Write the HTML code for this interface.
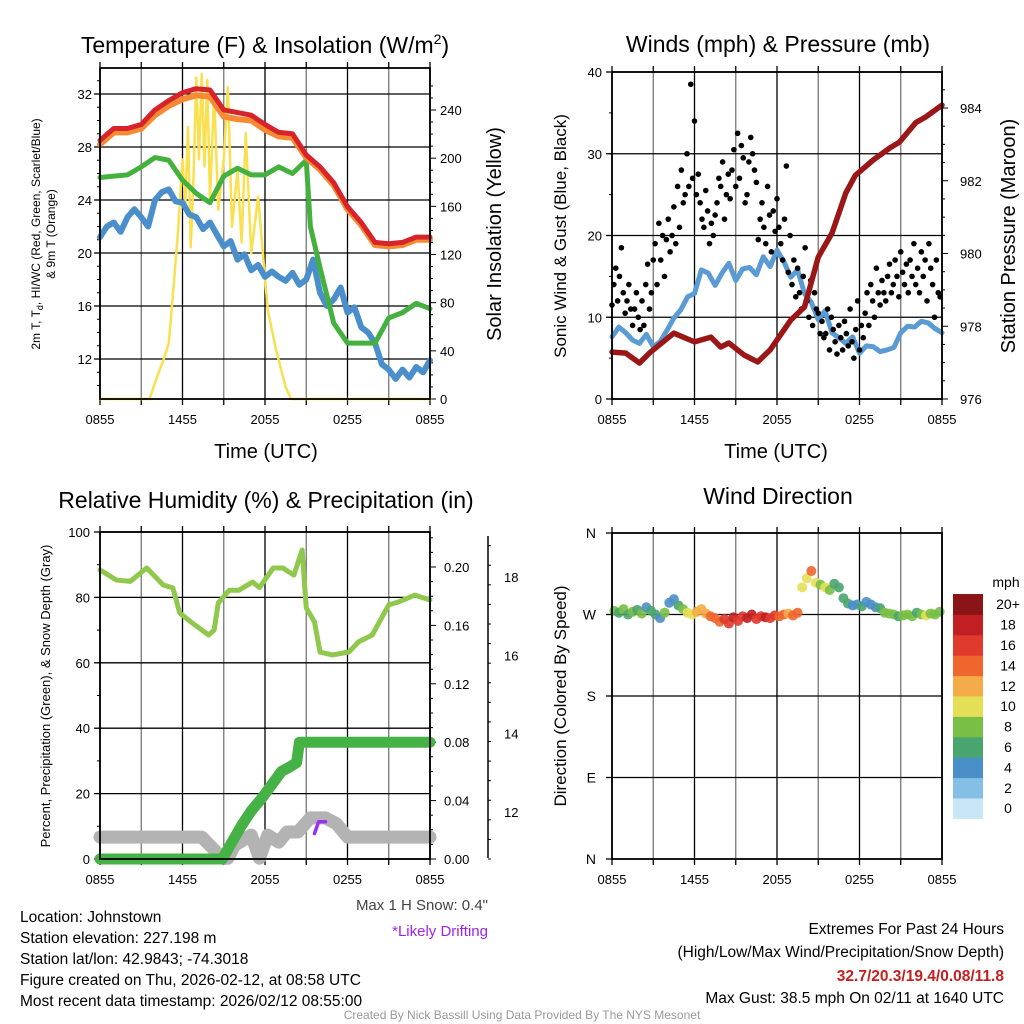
<!DOCTYPE html>
<html><head><meta charset="utf-8">
<style>
html,body{margin:0;padding:0;background:#fff;}
svg{display:block;font-family:"Liberation Sans",Arial,sans-serif;}
</style></head>
<body>
<svg id="fig" width="1024" height="1024" viewBox="0 0 1024 1024" xmlns="http://www.w3.org/2000/svg">
<g id="layer"></g>
</svg>
<script>
// ---------- DATA ----------
const hourTicks = ["0855","1455","2055","0255","0855"];
const tempHours = [0,1,2,3,4,5,6,7,8,9,10,11,12,13,14,15,16,17,18,19,20,21,22,23,24];
const temp2m = [28.5,29.4,29.4,29.7,30.8,31.5,32.1,32.4,32.3,30.8,30.6,30.4,29.7,29.1,29.0,27.4,26.5,25.3,23.5,22.3,20.8,20.7,20.8,21.2,21.2];
const temp9m = [28.2,29.1,29.1,29.4,30.4,31.1,31.6,31.9,31.8,30.3,30.1,30.0,29.3,28.8,28.7,27.2,26.3,25.1,23.3,22.1,20.6,20.5,20.6,21.0,21.0];
const dewHours = [0,1,2,3,4,5,6,7,8,9,10,11,12,13,14,15,15.3,16,17,18,19,20,21,22,23,24];
const dewpoint = [25.7,25.8,25.9,26.5,27.2,27.0,25.5,24.5,23.8,25.8,26.4,25.9,25.9,26.5,26.0,27.0,22.0,18.9,14.7,13.2,13.2,13.2,15.1,15.5,16.2,15.8];
const wcHours = [0,0.5,1,1.5,2,2.5,3,3.5,4,4.5,5,5.5,6,6.5,7,7.5,8,8.5,9,9.5,10,10.5,11,11.5,12,12.5,13,13.5,14,14.5,15,15.5,16,16.5,17,17.5,18,18.5,19,19.5,20,20.5,21,21.5,22,22.5,23,23.5,24];
const windChill = [21.2,22.0,22.3,21.6,22.7,23.3,22.7,22.0,24.0,24.6,24.8,23.9,23.8,22.9,22.7,21.8,22.3,21.4,20.5,20.9,19.5,19.9,18.7,19.1,18.2,18.6,18.2,17.9,18.5,17.6,18.0,19.5,17.0,16.0,16.5,17.4,15.5,15.9,14.4,14.0,13.2,11.6,11.2,10.5,11.2,10.6,11.4,11.0,11.9];
const solarHours = [0,3.6,4.2,4.6,5.0,5.4,5.7,6.0,6.2,6.4,6.6,6.8,7.0,7.2,7.4,7.6,7.8,8.0,8.3,8.6,9.0,9.3,9.6,10.0,10.3,10.6,11.0,11.5,12.2,12.8,13.5,13.9,24];
const solar = [0,0,20,32,46,100,143,199,160,226,126,184,267,199,270,193,265,165,254,157,199,259,143,190,130,221,121,168,74,41,10,0,0];
const windHours = wcHours;
const windSpeed = [7.6,8.8,8.1,7.2,6.8,7.9,6.4,7.0,8.4,9.9,10.9,12.5,12.9,15.8,15.4,13.9,15.4,16.6,14.5,15.9,16.1,15.2,17.4,16.2,18.2,16.8,14.9,15.8,12.9,11.8,9.7,10.8,8.1,7.5,6.8,7.6,5.6,6.5,6.4,5.8,6.0,6.3,8.1,8.9,8.8,9.5,9.3,8.6,8.1];
const gusts = [11.5,14,16,12,15,18.5,13,10.5,12,14,11,9,11,13,10,8.5,
12,9,14,16.5,11,13,17,19,14,21.5,17,20,15,19.5,22,18,
20,23.5,19,26,21,28,24,25,30,26,38.5,27,34,25,27.5,24,
22,21,25.5,23,19,21.5,20,22.5,24,27,26,29,22,25,27.5,24.5,
28,30.5,26,32.5,27,31,29.5,24,25,29,32,30,28,26.5,19.5,22,
24,21,19,26,22.5,18,23,20.5,24.5,21,19,17,22,28.5,15.5,20,
14,17,12.5,16,13,11,15,18.5,12,10,14.5,9,13,11,10.5,8,
9.5,7.5,8,11,6,10,8.5,7,5.5,9,7.5,6,9.5,8,6.5,11,
7,5,8.5,12,6,9,7.5,10.5,13,9,14,12,10,16,13,11.5,
14.5,13,12,15,16.5,13,14,17,15,12.5,18,15.5,14,16.5,13,17,
15,19,14,16,13,18,15,17,12,19,16,14,10,17,13,12.5];
const presHours = [0,1.0,2.0,2.8,4.5,6.0,7.2,7.9,8.5,9.6,10.6,11.5,13.0,14.0,15.0,16.0,17.0,17.7,19.0,20.2,20.9,22.1,22.8,24];
const pressure = [977.29,977.26,976.99,977.29,977.81,977.57,977.7,977.43,977.54,977.21,977.02,977.35,978.17,978.53,979.9,980.56,981.66,982.15,982.57,982.9,983.06,983.6,983.75,984.08];
const rhHours = [0,1.2,2.2,3.4,4.6,5.3,5.8,6.7,7.9,8.3,8.6,9.4,10.1,11.1,11.6,12.6,13.3,14.1,14.7,15.0,15.6,16.0,16.9,18.1,18.8,19.8,21.0,21.7,22.9,24];
const rh = [88.4,85.3,84.9,89,83.8,82.9,75.2,72.2,68.5,70,78.3,82.2,82.2,84.7,83,89,89,86.8,94.5,76.8,72.5,63.3,62.4,63.3,66.4,68.5,77.7,78.6,80.7,79.2];
const precipHours = [0,1,2,3,4,5,6,7,8,8.9,9.5,10.3,11.0,11.8,12.5,13.2,13.8,14.3,14.5,15,16,17,18,19,20,21,22,23,24];
const precip = [0,0,0,0,0,0,0,0,0,0,0.01,0.023,0.033,0.042,0.051,0.06,0.063,0.066,0.08,0.08,0.08,0.08,0.08,0.08,0.08,0.08,0.08,0.08,0.08];
const snowHours = [0,2,4,6,7.4,8.9,9.3,9.8,11.0,11.6,12.2,13.0,13.6,14.4,15.3,16.4,17.2,18,20,22,24];
const snowDepth = [11.36,11.36,11.36,11.36,11.36,10.82,10.82,11.15,11.41,10.82,11.41,11.23,11.49,11.49,11.85,11.85,11.7,11.36,11.36,11.36,11.36];
const driftHours = [15.6,15.9,16.4];
const driftDepth = [11.45,11.75,11.75];
const dirDeg = [274,272,276,270,273,275,271,278,274,270,266,272,
283,287,280,276,272,270,273,276,271,268,266,262,
265,260,267,263,268,266,270,265,268,267,266,269,
268,270,271,269,272,300,310,318,305,303,300,297,
304,300,288,282,280,281,279,284,281,278,277,272,
271,270,268,269,270,268,272,270,269,271,270,273];
const dirSpeed = [8,7,8,6,8,7,8,5,7,6,5,8,
4,5,6,9,10,11,12,13,12,14,15,14,
16,17,18,17,17,19,18,17,16,18,17,16,
15,14,13,14,14,10,11,14,10,9,10,8,
7,6,6,6,5,4,6,5,5,4,6,8,
8,8,7,8,9,8,7,8,10,8,9,8];
const speedLevels = ["0","2","4","6","8","10","12","14","16","18","20+"];
const speedColors = ["#c7e7f8","#85bfe6","#4a8fc8","#49a56e","#79bf45","#e5df58","#f5ac48","#ee662e","#df3a2b","#c21f24","#8b1416"];

// ---------- HELPERS ----------
const NS="http://www.w3.org/2000/svg";
const root=document.getElementById('layer');
function el(tag,attrs,parent){const e=document.createElementNS(NS,tag);for(const k in attrs)e.setAttribute(k,attrs[k]);(parent||root).appendChild(e);return e;}
function txt(s,x,y,size,anchor,extra,parent){const t=el('text',Object.assign({x:x,y:y,'font-size':size,'text-anchor':anchor||'middle',fill:'#000'},extra||{}),parent);t.textContent=s;return t;}
function lin(d0,d1,r0,r1){return v=>r0+(v-d0)*(r1-r0)/(d1-d0);}
function poly(xs,ys,fx,fy,color,w,parent,name){const p=el('polyline',{points:xs.map((x,i)=>fx(x)+','+fy(ys[i])).join(' '),fill:'none',stroke:color,'stroke-width':w,'stroke-linejoin':'round','stroke-linecap':'round'},parent);


return p;}

function frame(x0,y0,x1,y1,hLines,parent){
  for(let h=0;h<=24;h+=3){const x=x0+(x1-x0)*h/24;
    const g=el('line',{x1:x,y1:y0,x2:x,y2:y1,stroke:(h%6===0)?'#000':'#777','stroke-width':1.3},parent);
    
    
    el('line',{x1:x,y1:y1,x2:x,y2:y1+6,stroke:'#000','stroke-width':1.3},parent);
    el('line',{x1:x,y1:y0,x2:x,y2:y0-6,stroke:'#000','stroke-width':1.3},parent);}
  hLines.forEach(y=>{const g=el('line',{x1:x0,y1:y,x2:x1,y2:y,stroke:'#000','stroke-width':1.3},parent);
    
    });
  hourTicks.forEach((t,i)=>{const tl=txt(t,x0+(x1-x0)*i/4,y1+25,13,'middle',{},parent);
    
    });
}
function box(x0,y0,x1,y1,parent){const r=el('rect',{x:x0,y:y0,width:x1-x0,height:y1-y0,fill:'none',stroke:'#000','stroke-width':1.8},parent);
  
  }

// ---------- PANEL 1 ----------
(function(){
const g=el('g',{});


const X0=100,X1=430,Y0=68,Y1=399;
const fx=lin(0,24,X0,X1), fy=lin(32,12,94,359), fs=lin(0,240,399,110);
const tvals=[32,28,24,20,16,12];
frame(X0,Y0,X1,Y1,tvals.map(fy),g);
tvals.forEach(v=>{const t=txt(String(v),X0-8,fy(v)+5,13,'end',{},g);
  
  
  el('line',{x1:X0-6,y1:fy(v),x2:X0,y2:fy(v),stroke:'#000','stroke-width':1.3},g);});
for(let v=10;v<=33;v++){el('line',{x1:X0-3,y1:fy(v),x2:X0,y2:fy(v),stroke:'#000','stroke-width':1},g);}
for(let s=0;s<=260;s+=10){el('line',{x1:X1,y1:fs(s),x2:X1+(s%40===0?6:3),y2:fs(s),stroke:'#000','stroke-width':1},g);}
[0,40,80,120,160,200,240].forEach(v=>{const t=txt(String(v),X1+10,fs(v)+5,13,'start',{},g);
  
  });
poly(solarHours,solar,fx,fs,'#f9e04f',2.5,g,'solar-line');
poly(wcHours,windChill,fx,fy,'#4a8fcc',6,g,'windchill-line');
poly(dewHours,dewpoint,fx,fy,'#44b03e',5,g,'dewpoint-line');
poly(tempHours,temp9m,fx,fy,'#f58a33',6,g,'temp-9m-line');
poly(tempHours,temp2m,fx,fy,'#d7232a',5,g,'temp-2m-line');
box(X0,Y0,X1,Y1,g);
const t1=el('text',{x:265,y:53,'font-size':23,'text-anchor':'middle'},g);
t1.innerHTML='Temperature (F) &amp; Insolation (W/m<tspan dy="-9" font-size="14">2</tspan><tspan dy="9">)</tspan>';


const yl=el('text',{transform:'translate(40,234) rotate(-90)','font-size':12,'text-anchor':'middle'},g);
yl.innerHTML='2m T, T<tspan dy="3" font-size="9">d</tspan><tspan dy="-3">, HI/WC (Red, Green, Scarlet/Blue)</tspan>';


const yl2=txt('& 9m T (Orange)',0,0,12,'middle',{transform:'translate(55,234) rotate(-90)'},g);


const yr=txt('Solar Insolation (Yellow)',0,0,20,'middle',{transform:'translate(501,234) rotate(-90)'},g);


const xl=txt('Time (UTC)',266,458,20,'middle',{},g);


})();

// ---------- PANEL 2 ----------
(function(){
const g=el('g',{});


const X0=612,X1=942,Y0=72,Y1=399;
const fx=lin(0,24,X0,X1), fy=lin(0,40,399,72), fp=lin(976,984,399,108);
const wv=[0,10,20,30,40];
frame(X0,Y0,X1,Y1,wv.map(fy),g);
wv.forEach(v=>{const t=txt(String(v),X0-10,fy(v)+5,13,'end',{},g);
  
  
  el('line',{x1:X0-6,y1:fy(v),x2:X0,y2:fy(v),stroke:'#000','stroke-width':1.3},g);});
for(let v=0;v<=40;v+=5){el('line',{x1:X0-3,y1:fy(v),x2:X0,y2:fy(v),stroke:'#000','stroke-width':1},g);}
for(let p=976;p<=984.6;p+=0.5){const maj=Math.abs(p-Math.round(p/2)*2)<0.01;
  el('line',{x1:X1,y1:fp(p),x2:X1+(maj?6:3),y2:fp(p),stroke:'#000','stroke-width':1},g);}
[976,978,980,982,984].forEach(v=>{const t=txt(String(v),X1+18,fp(v)+5,13,'start',{},g);
  
  });
poly(windHours,windSpeed,fx,fy,'#5a9bd4',5,g,'wind-speed-line');
const step=24/gusts.length;
gusts.forEach((v,i)=>{const c=el('circle',{cx:fx(i*step),cy:fy(v),r:2.8,fill:'#000'},g);
  
  });
poly(presHours,pressure,fx,fp,'#9b1717',5.5,g,'pressure-line');
box(X0,Y0,X1,Y1,g);
const t=txt('Winds (mph) & Pressure (mb)',778,52,23,'middle',{},g);


const yl=txt('Sonic Wind & Gust (Blue, Black)',0,0,17,'middle',{transform:'translate(566,236) rotate(-90)'},g);


const yr=txt('Station Pressure (Maroon)',0,0,20,'middle',{transform:'translate(1015,236) rotate(-90)'},g);


const xl=txt('Time (UTC)',776,458,20,'middle',{},g);


})();

// ---------- PANEL 3 ----------
(function(){
const g=el('g',{});


const X0=100,X1=430,Y0=532,Y1=859;
const fx=lin(0,24,X0,X1), fy=lin(0,100,859,532), fpr=lin(0,0.2,859,567), fsn=lin(12,18,812,577);
const rv=[0,20,40,60,80,100];
frame(X0,Y0,X1,Y1,rv.map(fy),g);
rv.forEach(v=>{const t=txt(String(v),X0-10,fy(v)+5,13,'end',{},g);
  
  
  el('line',{x1:X0-6,y1:fy(v),x2:X0,y2:fy(v),stroke:'#000','stroke-width':1.3},g);});
for(let v=0;v<=100;v+=10){el('line',{x1:X0-3,y1:fy(v),x2:X0,y2:fy(v),stroke:'#000','stroke-width':1},g);}
for(let i=0;i<=22;i++){const p=i*0.01;el('line',{x1:X1,y1:fpr(p),x2:X1+(i%4===0?6:3),y2:fpr(p),stroke:'#000','stroke-width':1},g);}
["0.00","0.04","0.08","0.12","0.16","0.20"].forEach((s,i)=>{const t=txt(s,X1+14,fpr(i*0.04)+5,13,'start',{},g);
  
  });
const sa=el('line',{x1:488,y1:536,x2:488,y2:858,stroke:'#000','stroke-width':1.5},g);


for(let s=10.8;s<=19;s+=0.5){el('line',{x1:488,y1:fsn(s),x2:488+(Math.abs(s-Math.round(s/2)*2)<0.01?6:3),y2:fsn(s),stroke:'#000','stroke-width':1},g);}
[12,14,16,18].forEach(v=>{const t=txt(String(v),504,fsn(v)+5,13,'start',{},g);
  
  });
poly(snowHours,snowDepth,fx,fsn,'#b3b3b3',13,g,'snow-depth-line');
poly(precipHours,precip,fx,fpr,'#46b245',11,g,'precip-line');
poly(driftHours,driftDepth,fx,fsn,'#9b30f0',3.5,g,'drifting-line');
poly(rhHours,rh,fx,fy,'#90c84d',5,g,'rh-line');
box(X0,Y0,X1,Y1,g);
const t=txt('Relative Humidity (%) & Precipitation (in)',266,508,23,'middle',{},g);


const yl=txt('Percent, Precipitation (Green), & Snow Depth (Gray)',0,0,13,'middle',{transform:'translate(50,696) rotate(-90)'},g);


const s1=txt('Max 1 H Snow: 0.4"',488,910,15,'end',{fill:'#444'},g);


const s2=txt('*Likely Drifting',488,936,15,'end',{fill:'#a020f0'},g);


})();

// ---------- PANEL 4 ----------
(function(){
const g=el('g',{});


const X0=612,X1=942,Y0=533,Y1=859;
const fx=lin(0,24,X0,X1), fy=lin(0,360,859,533);
const dirLabels=["N","E","S","W","N"];
frame(X0,Y0,X1,Y1,[90,180,270].map(fy),g);
dirLabels.forEach((s,i)=>{const t=txt(s,X0-16,fy(i*90)+5,14,'end',{},g);
  
  
  el('line',{x1:X0-6,y1:fy(i*90),x2:X0,y2:fy(i*90),stroke:'#000','stroke-width':1.3},g);});
const step=24/dirDeg.length;
function colorFor(s){let i=Math.floor(s/2);if(i>10)i=10;if(i<0)i=0;return speedColors[i];}
dirDeg.forEach((d,i)=>{const c=el('circle',{cx:fx(i*step+step/2),cy:fy(d),r:5,fill:colorFor(dirSpeed[i]),'fill-opacity':0.9},g);
  
  });
box(X0,Y0,X1,Y1,g);
const t=txt('Wind Direction',778,504,23,'middle',{},g);


const yl=txt('Direction (Colored By Speed)',0,0,17,'middle',{transform:'translate(566,696) rotate(-90)'},g);


})();

// ---------- COLORBAR ----------
(function(){
const cb=el('g',{});


const bh=20.4, top=594, n=speedColors.length;
speedColors.forEach((c,i)=>{const y=top+(n-1-i)*bh;
  const r=el('rect',{x:953,y:y,width:30,height:bh+0.5,fill:c},cb);
  
  
  const l=txt(speedLevels[i],1008,y+bh/2+5,14,'middle',{},cb);
  
  });
const mt=txt('mph',1006,587,14,'middle',{},cb);


})();

// ---------- TEXT ----------
(function(){
const info=["Location: Johnstown","Station elevation: 227.198 m","Station lat/lon: 42.9843; -74.3018","Figure created on Thu, 2026-02-12, at 08:58 UTC","Most recent data timestamp: 2026/02/12 08:55:00"];
info.forEach((s,i)=>{const t=txt(s,20,922+i*21,15.5,'start');
  
  });
const r1=txt('Extremes For Past 24 Hours',1004,934,15.5,'end');


const r2=txt('(High/Low/Max Wind/Precipitation/Snow Depth)',1004,957,15.5,'end');


const r3=txt('32.7/20.3/19.4/0.08/11.8',1004,981,15.5,'end',{fill:'#c81e1e','font-weight':'bold'});


const r4=txt('Max Gust: 38.5 mph On 02/11 at 1640 UTC',1004,1003,15.5,'end');


const f=txt('Created By Nick Bassill Using Data Provided By The NYS Mesonet',522,1019,12,'middle',{fill:'#999'});


})();
</script>
</body></html>
